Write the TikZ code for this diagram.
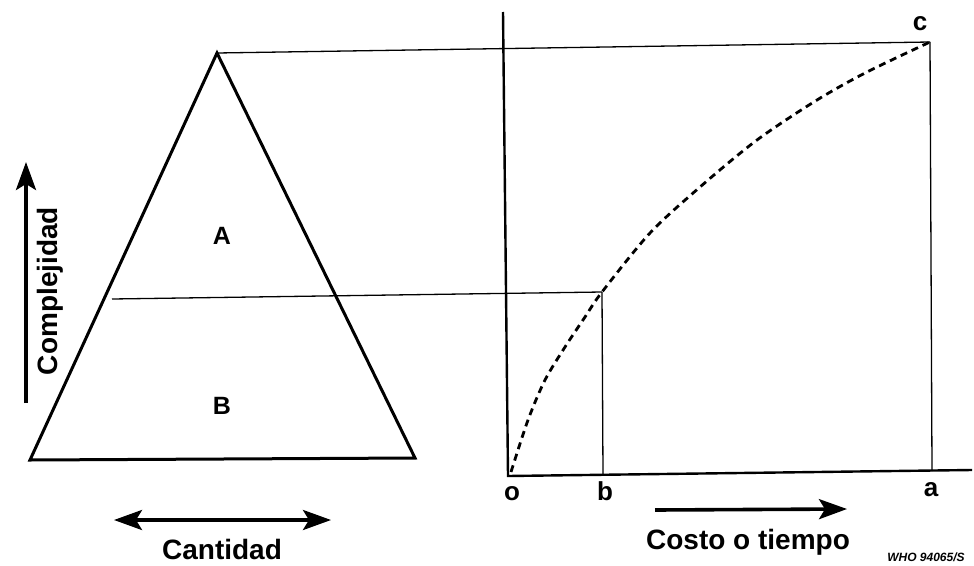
\documentclass[tikz,border=0pt]{standalone}
\usepackage{fontspec}
\setmainfont{Liberation Sans}
\usetikzlibrary{arrows.meta, positioning, calc}

\begin{document}
\begin{tikzpicture}[x=1pt, y=-1pt,
    thinline/.style={black, line width=1.3pt},
    axisline/.style={black, line width=2.4pt},
    arrowline/.style={-{Stealth[length=28pt, width=20pt, inset=6pt]}, line width=3.6pt},
    lbl/.style={font=\fontsize{28}{32}\selectfont\bfseries, inner sep=0pt},
    letter/.style={font=\fontsize{26}{30}\selectfont\bfseries, inner sep=0pt}]
    \useasboundingbox (0,0) rectangle (974,565);

    % Points of the triangle and the graph
    \coordinate (apex) at (217,53);
    \coordinate (baseL) at (30,460);
    \coordinate (baseR) at (415,458);
    \coordinate (midL) at (112,299);
    \coordinate (origin) at (508,476);
    \coordinate (yTop) at (503,12);
    \coordinate (xEnd) at (972,470);
    \coordinate (ptB) at (602,292);
    \coordinate (ptBfoot) at (603,475);
    \coordinate (ptC) at (930,42);
    \coordinate (ptCfoot) at (932,471);

    % Draw triangle
    \draw[line width=3pt, line join=miter] (baseL) -- (apex) -- (baseR) -- cycle;
    \draw[thinline] (midL) -- (ptB);
    \draw[thinline] (apex) -- (ptC);

    % Draw axes
    \draw[axisline] (yTop) -- (origin) -- (xEnd);
    \draw[thinline] (ptB) -- (ptBfoot);
    \draw[thinline] (ptC) -- (ptCfoot);

    % Dashed curve
    \draw[line width=2.8pt, dash pattern=on 7pt off 5pt]
        plot[smooth, tension=0.5] coordinates {(511,472) (528,420) (545,380) (565,347) (585,317) (602,292) (650,233) (700,187) (757,140) (817,100) (867,72) (930,42)};

    % Labels A and B
    \node[letter, font=\fontsize{25}{28}\selectfont\bfseries] (labA) at (222,236) {A};
    \node[letter, font=\fontsize{25}{28}\selectfont\bfseries] (labB) at (222,406) {B};

    % Axis letters
    \node[letter] (labO) at (512,494) {o};
    \node[letter] (labb) at (605,491) {b};
    \node[letter] (laba) at (931,490) {a};
    \node[letter] (labc) at (920,24) {c};

    % Arrows with titles
    \coordinate (upS) at (26,403);
    \coordinate (upE) at (26,162);
    \draw[arrowline] (upS) -- (upE);
    \node[lbl, rotate=90] (compl) at (50,291) {Complejidad};

    \coordinate (cantL) at (114,520);
    \coordinate (cantR) at (331,520);
    \draw[arrowline, {Stealth[length=28pt, width=20pt, inset=6pt]}-{Stealth[length=28pt, width=20pt, inset=6pt]}] (cantL) -- (cantR);
    \node[lbl] (cant) at (222,549) {Cantidad};

    \coordinate (costS) at (655,510);
    \coordinate (costE) at (847,509);
    \draw[arrowline] (costS) -- (costE);
    \node[lbl] (costo) at (748,542) {Costo o tiempo};

    \node[font=\fontsize{12}{14}\selectfont\itshape\bfseries, inner sep=0pt] (who) at (926,557) {WHO 94065/S};
\end{tikzpicture}
\end{document}
